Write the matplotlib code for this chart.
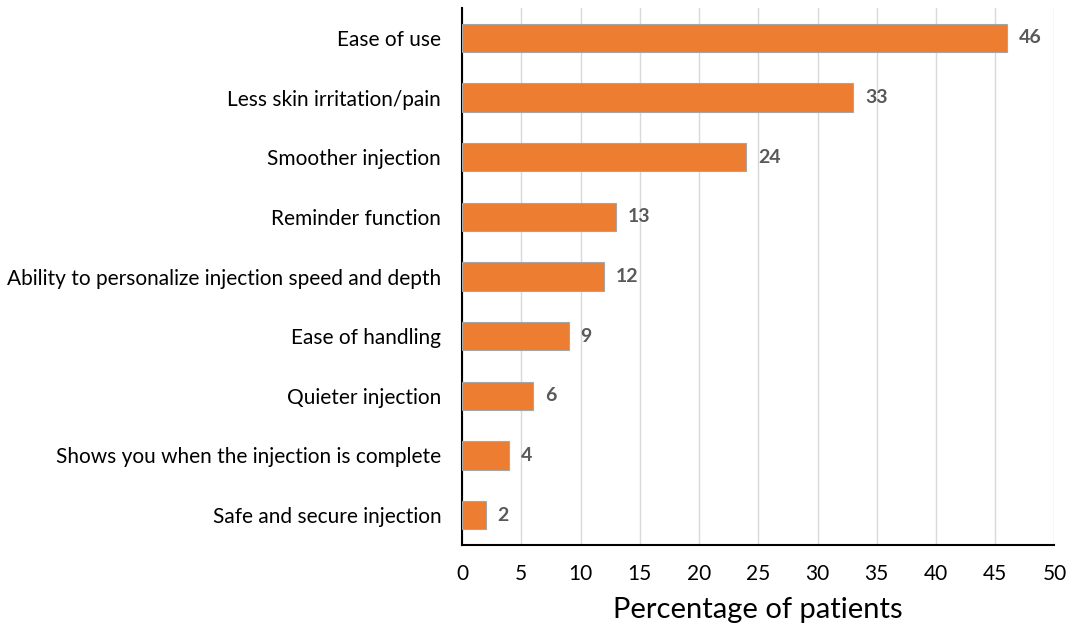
import matplotlib.pyplot as plt

categories = [
    'Ease of use',
    'Less skin irritation/pain',
    'Smoother injection',
    'Reminder function',
    'Ability to personalize injection speed and depth',
    'Ease of handling',
    'Quieter injection',
    'Shows you when the injection is complete',
    'Safe and secure injection',
]
values = [46, 33, 24, 13, 12, 9, 6, 4, 2]
xticks = list(range(0, 55, 5))

plt.rcParams['font.family'] = ['Lato', 'DejaVu Sans']

fig = plt.figure(figsize=(10.7, 6.27), dpi=100)
ax = fig.add_axes([0.4318, 0.1308, 0.5537, 0.8564])

ypos = list(range(len(categories)))
ax.barh(ypos, values, height=0.47, color='#ED7D31', edgecolor='#A6A6A6', linewidth=0.8, zorder=3)
for y, v in zip(ypos, values):
    ax.text(v + 1.0, y, str(v), va='center', ha='left', fontsize=14,
            fontweight='bold', color='#595959', zorder=4)

ax.set_yticks(ypos)
ax.set_yticklabels(categories, fontsize=15)
ax.set_ylim(len(categories) - 0.5, -0.5)
ax.set_xlim(0, 50)
ax.set_xticks(xticks)
ax.set_xticklabels([str(t) for t in xticks], fontsize=15)
ax.set_xlabel('Percentage of patients', fontsize=21, labelpad=9)

ax.xaxis.grid(True, color='#D9D9D9', linewidth=1, zorder=0)
ax.tick_params(axis='x', length=0, pad=14)
ax.tick_params(axis='y', length=0, pad=15)
for side in ['top', 'right']:
    ax.spines[side].set_visible(False)
ax.spines['left'].set_color('#000000')
ax.spines['bottom'].set_color('#000000')
ax.spines['left'].set_linewidth(1.5)
ax.spines['bottom'].set_linewidth(1.5)

fig.savefig('out.png', dpi=100)
